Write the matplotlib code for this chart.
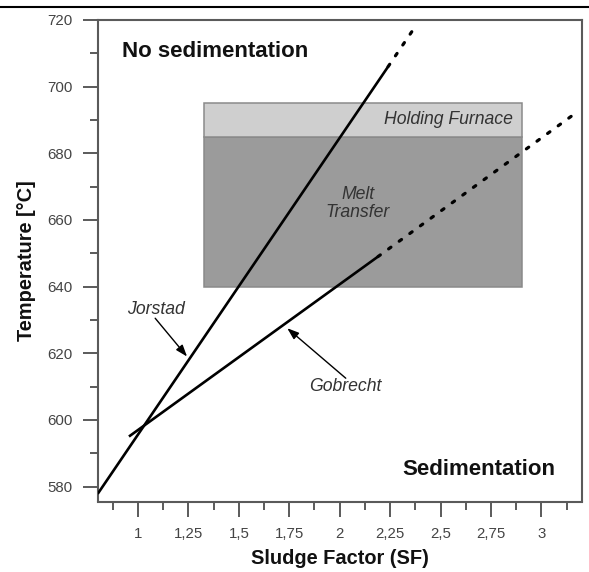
import matplotlib
matplotlib.use("Agg")
import matplotlib.pyplot as plt
from matplotlib.patches import Rectangle
from matplotlib.lines import Line2D
from matplotlib.ticker import MultipleLocator, FuncFormatter

plt.rcParams['font.family'] = ['Liberation Sans', 'DejaVu Sans']

# Sludge-factor limit lines (solid = measured range, dotted = extrapolation)
jorstad_sf = [0.80, 2.24]
jorstad_t = [577.8, 706.0]
jorstad_ext_sf = [2.24, 2.38]
jorstad_ext_t = [706.0, 718.5]

gobrecht_sf = [0.955, 2.19]
gobrecht_t = [595.0, 649.0]
gobrecht_ext_sf = [2.19, 3.18]
gobrecht_ext_t = [649.0, 692.5]

# Process windows: (SF from, SF to, T from, T to)
melt_transfer = (1.325, 2.905, 640.0, 685.0)
holding_furnace = (1.325, 2.905, 685.0, 695.0)

x_ticks = [1, 1.25, 1.5, 1.75, 2, 2.25, 2.5, 2.75, 3]
y_ticks = [580, 600, 620, 640, 660, 680, 700, 720]

W, H, DPI = 589, 572, 100
fig = plt.figure(figsize=(W / DPI, H / DPI), dpi=DPI)
ax = fig.add_axes([97.7 / W, 1 - 501.5 / H, (581.7 - 97.7) / W, (501.5 - 20) / H])

ax.set_xlim(0.8, 3.2)
ax.set_ylim(575.5, 720)

grey_edge = '#8a8a8a'
for (x0, x1, y0, y1), fc in [(melt_transfer, '#9b9b9b'), (holding_furnace, '#cfcfcf')]:
    ax.add_patch(Rectangle((x0, y0), x1 - x0, y1 - y0, facecolor=fc,
                           edgecolor=grey_edge, linewidth=1.1, zorder=1))

ax.text(2.86, 690.0, 'Holding Furnace', ha='right', va='center', style='italic',
        fontsize=12.7, color='#333333', zorder=2)
ax.text(2.09, 665.0, 'Melt\nTransfer', ha='center', va='center', style='italic',
        fontsize=12.7, color='#333333', linespacing=1.05, zorder=2)

dotted = (0, (0.9, 3.2))
ax.plot(jorstad_sf, jorstad_t, color='black', lw=1.9, solid_capstyle='butt', zorder=3)
ax.plot(jorstad_ext_sf, jorstad_ext_t, color='black', lw=2.3,
        linestyle=dotted, dash_capstyle='round', zorder=3)
ax.plot(gobrecht_sf, gobrecht_t, color='black', lw=1.9, solid_capstyle='butt', zorder=3)
ax.plot(gobrecht_ext_sf, gobrecht_ext_t, color='black', lw=2.3,
        linestyle=dotted, dash_capstyle='round', zorder=3)

arrow = dict(arrowstyle='-|>,head_length=0.7,head_width=0.25', color='black',
             lw=1.0, shrinkA=0, shrinkB=0)
ax.text(1.09, 633.0, 'Jorstad', ha='center', va='center', style='italic',
        fontsize=12.7, color='#333333')
ax.annotate('', xy=(1.243, 619.0), xytext=(1.085, 630.5), arrowprops=arrow)
ax.text(2.026, 610.0, 'Gobrecht', ha='center', va='center', style='italic',
        fontsize=12.7, color='#333333')
ax.annotate('', xy=(1.74, 627.5), xytext=(2.03, 612.5), arrowprops=arrow)

ax.text(0.92, 710.4, 'No sedimentation', ha='left', va='center',
        fontsize=16, fontweight='bold', color='#111111')
ax.text(2.31, 585.0, 'Sedimentation', ha='left', va='center',
        fontsize=16, fontweight='bold', color='#111111')

ax.set_xticks(x_ticks)
ax.set_yticks(y_ticks)
ax.xaxis.set_minor_locator(MultipleLocator(0.125))
ax.yaxis.set_minor_locator(MultipleLocator(10))
ax.xaxis.set_major_formatter(FuncFormatter(lambda v, p: ('%g' % v).replace('.', ',')))
ax.yaxis.set_major_formatter(FuncFormatter(lambda v, p: '%d' % v))

spine_col = '#5a5a5a'
for s in ax.spines.values():
    s.set_color(spine_col)
    s.set_linewidth(1.5)
ax.tick_params(which='major', direction='out', length=11, width=1.4,
               color=spine_col, labelsize=10.8, labelcolor='#444444', pad=7)
ax.tick_params(which='minor', direction='out', length=6, width=1.4, color=spine_col)

ax.set_xlabel('Sludge Factor (SF)', fontsize=14.4, fontweight='bold',
              color='#111111', labelpad=6)
ax.set_ylabel('Temperature [°C]', fontsize=14.4, fontweight='bold',
              color='#111111', labelpad=8)

# rule across the top of the page
fig.add_artist(Line2D([0.0, 588 / W], [1 - 6.5 / H, 1 - 6.5 / H], color='black', lw=1.5,
                      transform=fig.transFigure))

fig.savefig('out.png', dpi=DPI)
